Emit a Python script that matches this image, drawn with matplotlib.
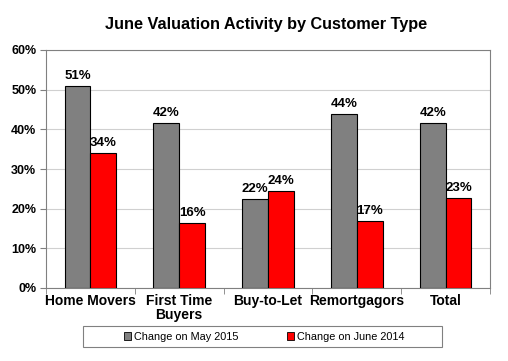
import numpy as np
import matplotlib
matplotlib.use('Agg')
from matplotlib import pyplot as plt
from matplotlib.patches import Patch, Rectangle

plt.rcParams['font.family'] = ['Liberation Sans', 'DejaVu Sans']

categories = ['Home Movers', 'First Time\nBuyers', 'Buy-to-Let', 'Remortgagors', 'Total']
may_2015 = [50.9, 41.7, 22.4, 43.8, 41.7]
june_2014 = [34.0, 16.4, 24.4, 16.9, 22.6]
may_labels = ['51%', '42%', '22%', '44%', '42%']
june_labels = ['34%', '16%', '24%', '17%', '23%']
series_names = ['Change on May 2015', 'Change on June 2014']

fig = plt.figure(figsize=(5.08, 3.61), dpi=100)
ax = fig.add_axes([46/508, 1 - 288/361, 444/508, 238/361])

x = np.arange(len(categories))
w = 0.29
ax.bar(x - w/2, may_2015, w, color='#808080', edgecolor='black', linewidth=0.8, zorder=3)
ax.bar(x + w/2, june_2014, w, color='#ff0000', edgecolor='black', linewidth=0.8, zorder=3)

for xi, v, lab in zip(x, may_2015, may_labels):
    ax.text(xi - w/2, v + 1.0, lab, ha='center', va='bottom', fontsize=9.5, fontweight='bold')
for xi, v, lab in zip(x, june_2014, june_labels):
    ax.text(xi + w/2, v + 1.0, lab, ha='center', va='bottom', fontsize=9.5, fontweight='bold')

ax.set_xlim(-0.5, len(categories) - 0.5)
ax.set_ylim(0, 60)
ax.set_yticks(np.arange(0, 61, 10))
ax.set_yticklabels(['%d%%' % t for t in range(0, 61, 10)], fontsize=9, fontweight='bold')
ax.yaxis.grid(True, color='#d0d0d0', linewidth=0.8, zorder=0)

ax.set_xticks(x)
ax.set_xticklabels(categories, fontsize=10, fontweight='bold', linespacing=1.0)
ax.tick_params(axis='x', length=0, pad=4)
ax.set_xticks(np.arange(-0.5, len(categories)), minor=True)
ax.tick_params(axis='x', which='minor', length=4, color='#808080')
ax.tick_params(axis='y', length=4, color='#808080', pad=3)

for s in ax.spines.values():
    s.set_color('#808080')

fig.text(266/508, 1 - 25/361, 'June Valuation Activity by Customer Type',
         ha='center', va='center', fontsize=11.7, fontweight='bold')

# legend frame drawn by hand so it can be wider than the entries
fig.patches.append(Rectangle((83/508, 1 - 347/361), 359/508, 21/361,
                             transform=fig.transFigure, facecolor='white',
                             edgecolor='#808080', linewidth=0.8))
handles = [Patch(facecolor='#808080', edgecolor='black', linewidth=0.6),
           Patch(facecolor='#ff0000', edgecolor='black', linewidth=0.6)]
fig.legend(handles, series_names, loc='center', bbox_to_anchor=(264/508, 1 - 336.5/361),
           ncol=2, fontsize=7.8, frameon=False, handlelength=0.7,
           handleheight=0.7, handletextpad=0.2, columnspacing=4.5)

fig.savefig('out.png', dpi=100)
